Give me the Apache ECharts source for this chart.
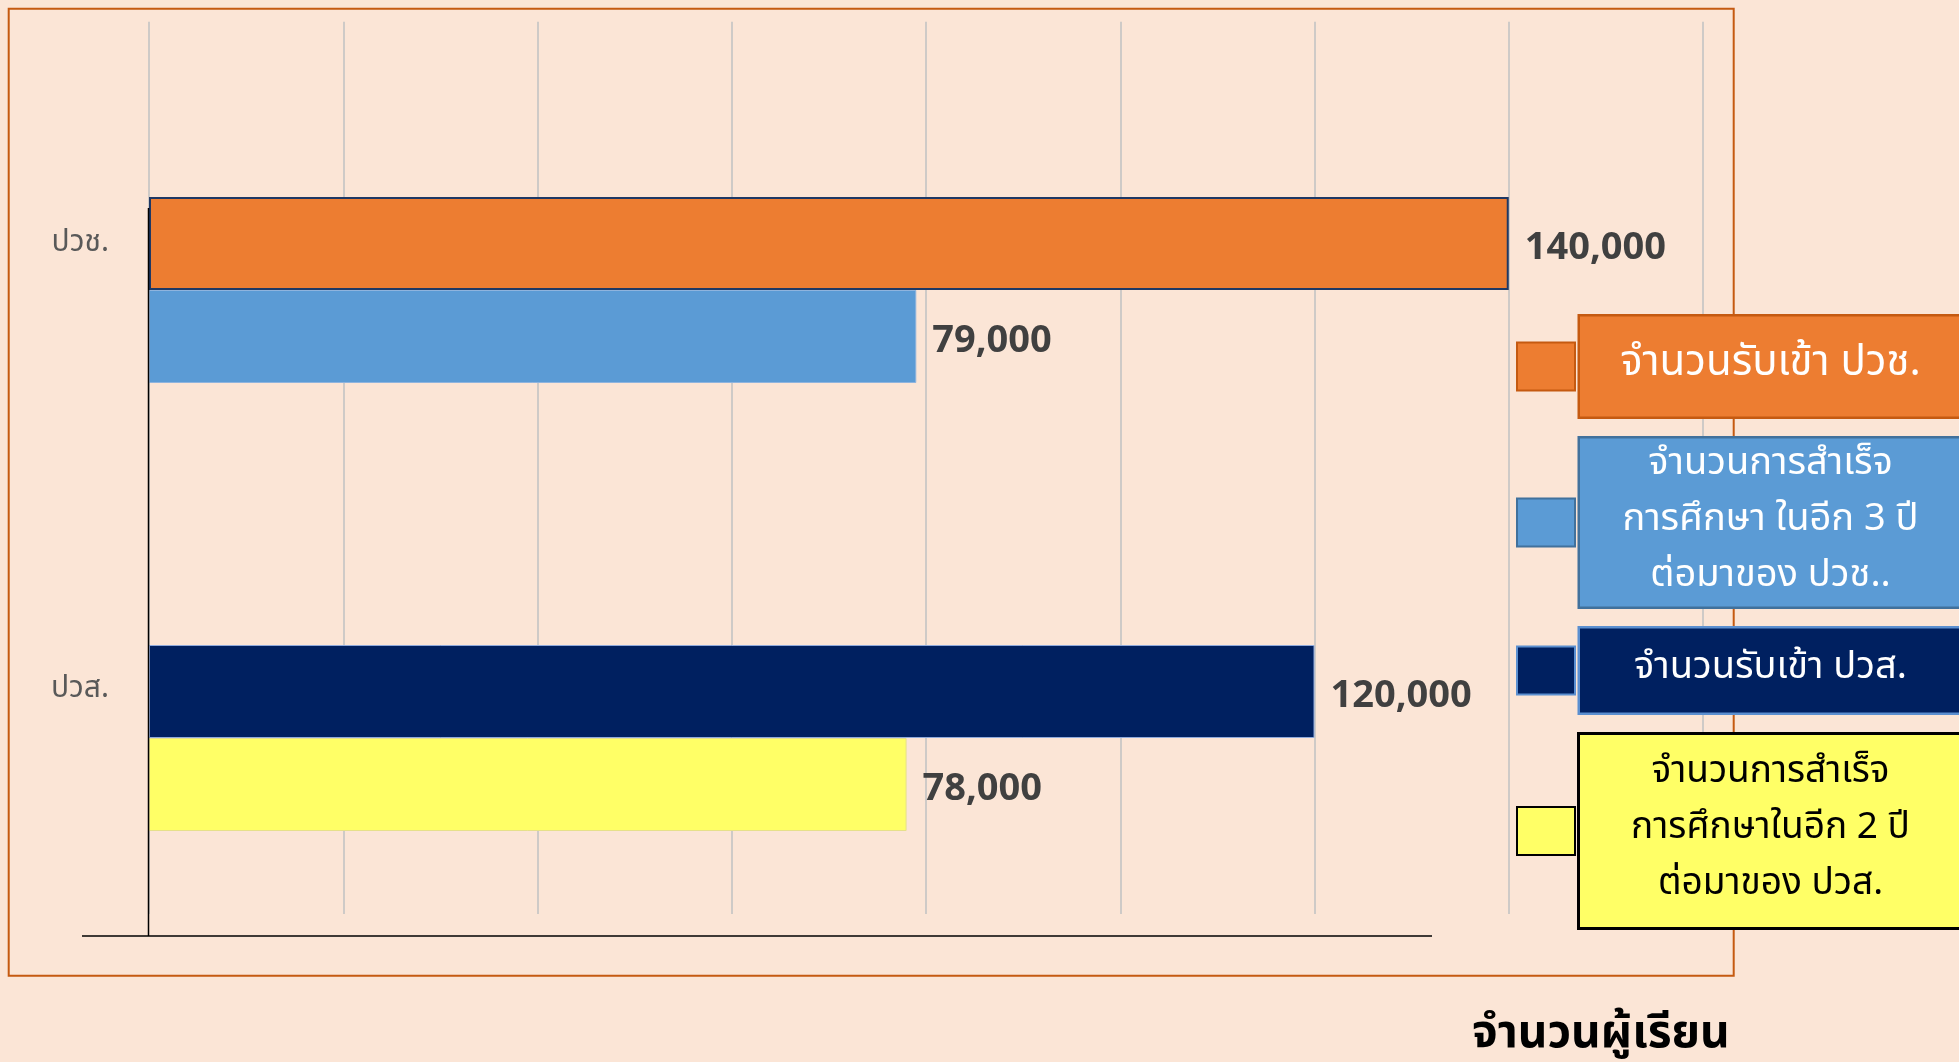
<!DOCTYPE html>
<html>
<head>
<meta charset="utf-8">
<script src="https://cdn.jsdelivr.net/npm/echarts@6/dist/echarts.min.js"></script>
<style>
  html, body { margin: 0; padding: 0; background: #FBE5D6; }
  #chart { width: 1959px; height: 1062px; }
</style>
</head>
<body>
<div id="chart"></div>
<script>
// Student numbers: intake vs. graduates for two vocational levels
const categories = ['ปวช.', 'ปวส.'];
const seriesNames = [
  'จำนวนรับเข้า ปวช.',
  'จำนวนการสำเร็จการศึกษา ในอีก 3 ปี ต่อมาของ ปวช..',
  'จำนวนรับเข้า ปวส.',
  'จำนวนการสำเร็จการศึกษาในอีก 2 ปี ต่อมาของ ปวส.'
];
const legendLines = [
  ['จำนวนรับเข้า ปวช.'],
  ['จำนวนการสำเร็จ', 'การศึกษา ในอีก 3 ปี', 'ต่อมาของ ปวช..'],
  ['จำนวนรับเข้า ปวส.'],
  ['จำนวนการสำเร็จ', 'การศึกษาในอีก 2 ปี', 'ต่อมาของ ปวส.']
];
const vocIntake = [140000, null];
const vocGraduates = [79000, null];
const highIntake = [null, 120000];
const highGraduates = [null, 78000];
const axisMin = 0;
const axisMax = 160000;
const axisStep = 20000;
const axisTitle = 'จำนวนผู้เรียน';

const THAI_FONT = "'Noto Sans Thai', 'Noto Sans', 'DejaVu Sans', sans-serif";
const fmt = v => Number(v).toLocaleString('en-US');

const chart = echarts.init(document.getElementById('chart'), null, { renderer: 'canvas' });

const valueLabel = {
  show: true,
  position: 'right',
  distance: 16,
  offset: [0, 5],
  formatter: p => fmt(p.value),
  fontFamily: "'Open Sans', 'Liberation Sans', sans-serif",
  fontWeight: 'bold',
  fontSize: 38,
  color: '#404040'
};

const barColors = ['#ED7D31', '#5B9BD5', '#002060', '#FFFF66'];
const barBorders = [
  { borderColor: '#1F3864', borderWidth: 2 },
  { borderColor: '#8FB4DE', borderWidth: 1 },
  { borderColor: '#8FAADC', borderWidth: 1 },
  { borderColor: '#E6E08A', borderWidth: 1 }
];
const dataSets = [vocIntake, vocGraduates, highIntake, highGraduates];
const stacks = ['intake', 'graduates', 'intake', 'graduates'];

// Legend boxes: fill, outline, text colour, vertical padding, font size, line height
const legendBoxes = [
  { bg: '#ED7D31', border: '#C55A11', bw: 2.5, color: '#FFFFFF', pad: 21, size: 42, lh: 58, markBorder: '#C55A11' },
  { bg: '#5B9BD5', border: '#41719C', bw: 2.5, color: '#FFFFFF', pad: 0, size: 38, lh: 56, markBorder: '#41719C' },
  { bg: '#002060', border: '#5B8FD0', bw: 2.5, color: '#FFFFFF', pad: 13, size: 38, lh: 58, markBorder: '#5B8FD0' },
  { bg: '#FFFF66', border: '#000000', bw: 3, color: '#000000', pad: 12, size: 37, lh: 56, markBorder: '#000000' }
];

const option = {
  backgroundColor: '#FBE5D6',
  animation: false,
  grid: [
    { left: 149, width: 1554, top: 66, height: 896 },
    { left: 149, width: 1554, top: 21.7, height: 892.3 }
  ],
  xAxis: [
    { gridIndex: 0, type: 'value', min: axisMin, max: axisMax, interval: axisStep, show: false },
    {
      gridIndex: 1, type: 'value', min: axisMin, max: axisMax, interval: axisStep,
      axisLine: { show: false }, axisTick: { show: false }, axisLabel: { show: false },
      splitLine: { show: true, lineStyle: { color: '#C3C3C3', width: 1.6 } }
    }
  ],
  yAxis: [
    { gridIndex: 0, type: 'category', data: categories, inverse: true, show: false },
    {
      gridIndex: 1, type: 'category', data: categories, inverse: true,
      axisLine: { show: false }, axisTick: { show: false }, splitLine: { show: false },
      axisLabel: { margin: 40, color: '#595959', fontSize: 30, fontFamily: THAI_FONT }
    }
  ],
  legend: {
    orient: 'vertical',
    left: 1516,
    top: 314,
    padding: 0,
    itemGap: 17,
    itemWidth: 58,
    itemHeight: 48,
    selectedMode: false,
    icon: 'rect',
    formatter: name => {
      const i = seriesNames.indexOf(name);
      return legendLines[i].map(l => '{c|' + l + '}').join('\n');
    },
    data: seriesNames.map((name, i) => {
      const b = legendBoxes[i];
      return {
        name,
        itemStyle: { color: b.bg, borderColor: b.markBorder, borderWidth: 2 },
        textStyle: {
          color: b.color,
          backgroundColor: b.bg,
          borderColor: b.border,
          borderWidth: b.bw,
          padding: [b.pad, 0, b.pad, 0],
          width: 381,
          fontFamily: THAI_FONT,
          fontSize: b.size,
          lineHeight: b.lh,
          rich: { c: { align: 'center', color: b.color, fontSize: b.size, lineHeight: b.lh, fontFamily: THAI_FONT } }
        }
      };
    })
  },
  series: seriesNames.map((name, i) => ({
    name,
    type: 'bar',
    xAxisIndex: 0,
    yAxisIndex: 0,
    stack: stacks[i],
    data: dataSets[i],
    barWidth: 93,
    barGap: '0%',
    itemStyle: Object.assign({ color: barColors[i] }, barBorders[i]),
    label: valueLabel
  })),
  graphic: [
    {
      type: 'rect', z: -10, silent: true,
      shape: { x: 8.7, y: 8.7, width: 1725, height: 967 },
      style: { fill: null, stroke: '#C55A11', lineWidth: 2 }
    },
    {
      type: 'line', z: 50, silent: true,
      shape: { x1: 148.5, y1: 208, x2: 148.5, y2: 936 },
      style: { stroke: '#000000', lineWidth: 1.5 }
    },
    {
      type: 'line', z: 50, silent: true,
      shape: { x1: 82, y1: 936, x2: 1432, y2: 936 },
      style: { stroke: '#000000', lineWidth: 1.5 }
    },
    {
      type: 'text', silent: true,
      x: 1472, y: 1038,
      style: {
        text: axisTitle, fill: '#000000', fontSize: 46, fontWeight: 'bold',
        fontFamily: THAI_FONT, verticalAlign: 'middle', align: 'left'
      }
    }
  ]
};

chart.setOption(option);
</script>
</body>
</html>
